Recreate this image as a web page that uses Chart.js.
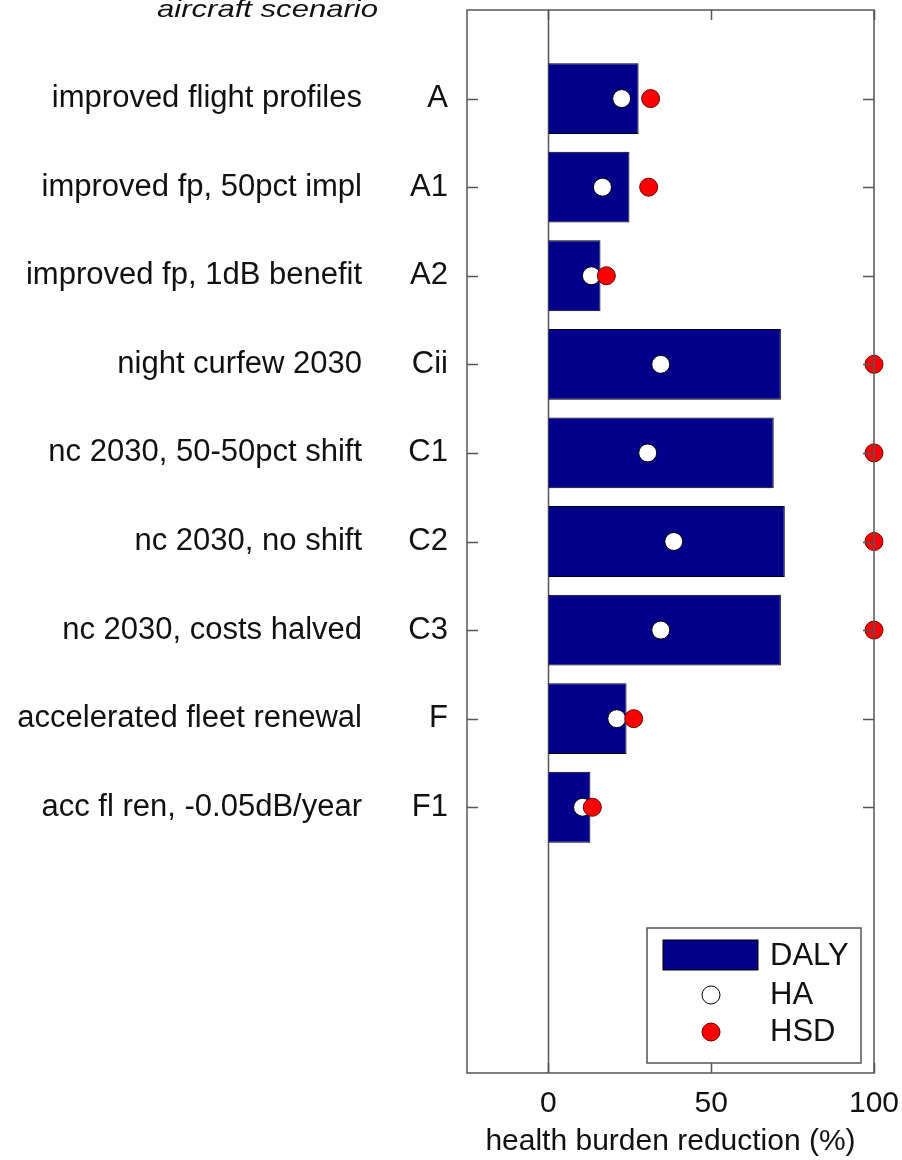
<!DOCTYPE html>
<html>
<head>
<meta charset="utf-8">
<script src="https://cdn.jsdelivr.net/npm/chart.js@4.4.1/dist/chart.umd.min.js"></script>
<style>
  body { margin: 0; background: #fff; }
</style>
</head>
<body>
<canvas id="healthChart" width="902" height="1160"></canvas>
<script>
// scenario codes and names, top to bottom
const codes = ['A', 'A1', 'A2', 'Cii', 'C1', 'C2', 'C3', 'F', 'F1'];
const scenarios = ['improved flight profiles', 'improved fp, 50pct impl', 'improved fp, 1dB benefit',
  'night curfew 2030', 'nc 2030, 50-50pct shift', 'nc 2030, no shift', 'nc 2030, costs halved',
  'accelerated fleet renewal', 'acc fl ren, -0.05dB/year'];

// health burden reduction (%)
const daly = [27.7, 24.9, 16.0, 71.4, 69.2, 72.6, 71.4, 24.0, 12.9];
const ha = [22.5, 16.6, 13.2, 34.5, 30.5, 38.5, 34.5, 21.0, 10.5];
const hsd = [31.4, 30.8, 17.8, 100, 100, 100, 100, 26.2, 13.5];

const xTicks = [0, 50, 100];

const FONT = '"Liberation Sans", Arial, sans-serif';
const frameColor = '#555';

function rows(values) {
  return values.map((v, i) => ({ x: v, y: i + 1 }));
}

// frame, zero line and inward tick marks
const framePlugin = {
  id: 'frame',
  beforeDatasetsDraw(chart) {
    const { ctx, chartArea: a, scales } = chart;
    ctx.save();
    ctx.strokeStyle = frameColor;
    ctx.lineWidth = 1.5;
    let x0 = Math.round(scales.x.getPixelForValue(0)) + 0.5;
    ctx.beginPath();
    ctx.moveTo(x0, a.top);
    ctx.lineTo(x0, a.bottom);
    ctx.stroke();
    ctx.restore();
  },
  afterDraw(chart) {
    const { ctx, chartArea: a, scales } = chart;
    ctx.save();
    ctx.strokeStyle = frameColor;
    ctx.lineWidth = 1.5;
    ctx.strokeRect(a.left, a.top, a.right - a.left, a.bottom - a.top);
    ctx.beginPath();
    codes.forEach((c, i) => {
      let y = Math.round(scales.y.getPixelForValue(i + 1)) + 0.5;
      ctx.moveTo(a.left, y); ctx.lineTo(a.left + 11, y);
      ctx.moveTo(a.right, y); ctx.lineTo(a.right - 11, y);
    });
    xTicks.forEach(t => {
      let x = Math.round(scales.x.getPixelForValue(t)) + 0.5;
      ctx.moveTo(x, a.top); ctx.lineTo(x, a.top + 10);
      ctx.moveTo(x, a.bottom); ctx.lineTo(x, a.bottom - 10);
    });
    ctx.stroke();

    // scenario names and heading
    ctx.fillStyle = '#111';
    ctx.font = '31px ' + FONT;
    ctx.textAlign = 'right';
    ctx.textBaseline = 'middle';
    scenarios.forEach((s, i) => {
      ctx.fillText(s, 362, scales.y.getPixelForValue(i + 1));
    });
    ctx.font = 'italic 24px ' + FONT;
    ctx.textAlign = 'left';
    let w = ctx.measureText('aircraft scenario').width;
    ctx.translate(157, 10);
    ctx.scale(221 / w, 1);
    ctx.fillText('aircraft scenario', 0, 0);
    ctx.restore();
  }
};

// legend box in the lower right corner
const legendPlugin = {
  id: 'boxLegend',
  afterDatasetsDraw(chart) {
    const { ctx } = chart;
    const ds = chart.data.datasets;
    ctx.save();
    ctx.fillStyle = '#fff';
    ctx.strokeStyle = frameColor;
    ctx.lineWidth = 1.5;
    ctx.fillRect(647, 928, 214, 135);
    ctx.strokeRect(647, 928, 214, 135);

    ctx.fillStyle = ds[0].backgroundColor;
    ctx.strokeStyle = '#000';
    ctx.lineWidth = 1;
    ctx.fillRect(663, 940, 95, 30);
    ctx.strokeRect(663, 940, 95, 30);

    [[ds[1], 995], [ds[2], 1032]].forEach(([d, y]) => {
      ctx.beginPath();
      ctx.arc(711, y, d.pointRadius, 0, Math.PI * 2);
      ctx.fillStyle = d.backgroundColor;
      ctx.fill();
      ctx.strokeStyle = d.borderColor;
      ctx.lineWidth = d.borderWidth;
      ctx.stroke();
    });

    ctx.fillStyle = '#111';
    ctx.font = '31px ' + FONT;
    ctx.textBaseline = 'middle';
    ctx.fillText(ds[0].label, 770, 956);
    ctx.fillText(ds[1].label, 770, 995);
    ctx.fillText(ds[2].label, 770, 1032);
    ctx.restore();
  }
};

let ctx = document.getElementById('healthChart');
let healthChart = new Chart(ctx, {
  type: 'bar',
  data: {
    datasets: [{
      label: 'DALY',
      data: rows(daly),
      backgroundColor: '#00008b',
      borderColor: '#000',
      borderWidth: 1,
      barPercentage: 0.8,
      categoryPercentage: 1,
      order: 3
    }, {
      type: 'scatter',
      label: 'HA',
      data: rows(ha),
      backgroundColor: '#fff',
      borderColor: '#000',
      borderWidth: 1,
      pointRadius: 9,
      clip: false,
      order: 2
    }, {
      type: 'scatter',
      label: 'HSD',
      data: rows(hsd),
      backgroundColor: '#ff0000',
      borderColor: '#600',
      borderWidth: 1,
      pointRadius: 9,
      clip: false,
      order: 1
    }]
  },
  options: {
    indexAxis: 'y',
    responsive: false,
    animation: false,
    devicePixelRatio: 1,
    layout: { padding: { top: 8, right: 28, left: 0, bottom: 0 } },
    plugins: {
      legend: { display: false },
      tooltip: { enabled: false }
    },
    scales: {
      x: {
        type: 'linear',
        min: -25,
        max: 100,
        afterBuildTicks: scale => { scale.ticks = xTicks.map(v => ({ value: v })); },
        afterFit: scale => {
          scale.height = 87;
          scale.paddingLeft = 0;
          scale.paddingRight = 0;
        },
        grid: { display: false },
        border: { display: false },
        ticks: { color: '#111', font: { family: FONT, size: 30 }, padding: 5, maxRotation: 0 },
        title: {
          display: true,
          text: 'health burden reduction (%)',
          color: '#111',
          font: { family: FONT, size: 30 },
          padding: { top: 0, bottom: 0 }
        }
      },
      y: {
        type: 'linear',
        reverse: true,
        offset: false,
        min: 0,
        max: 12,
        afterBuildTicks: scale => { scale.ticks = codes.map((c, i) => ({ value: i + 1 })); },
        afterFit: scale => {
          scale.width = 467;
          scale.paddingTop = 0;
          scale.paddingBottom = 0;
        },
        grid: { display: false },
        border: { display: false },
        ticks: {
          color: '#111',
          font: { family: FONT, size: 31 },
          padding: 11,
          autoSkip: false,
          callback: v => codes[v - 1] || ''
        }
      }
    }
  },
  plugins: [framePlugin, legendPlugin]
});
</script>
</body>
</html>
